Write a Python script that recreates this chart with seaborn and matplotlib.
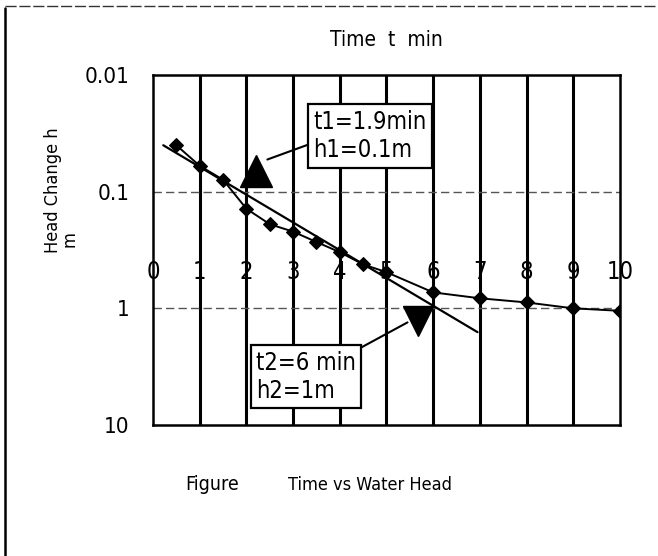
import matplotlib
matplotlib.use("Agg")
import matplotlib.pyplot as plt
import seaborn as sns
import pandas as pd
from matplotlib.lines import Line2D

# ---- data ----
time_min = [0.5, 1, 1.5, 2, 2.5, 3, 3.5, 4, 4.5, 5, 6, 7, 8, 9, 10]
head_m = [0.04, 0.06, 0.079, 0.14, 0.19, 0.22, 0.27, 0.33, 0.42, 0.49, 0.73, 0.82, 0.89, 1.0, 1.05]
fit_t = [0.22, 6.95]
fit_h = [0.04, 1.6]
t1, h1_marker = 2.2, 0.067
t2, h2_marker = 5.67, 1.28
x_ticks = [0, 1, 2, 3, 4, 5, 6, 7, 8, 9, 10]
y_ticks = [0.01, 0.1, 1, 10]
y_tick_labels = ["0.01", "0.1", "1", "10"]
x_label_level = 0.49
ann1_text = "t1=1.9min\nh1=0.1m"
ann2_text = "t2=6 min\nh2=1m"

sns.set_style("white")
plt.rcParams['font.family'] = ['DejaVu Sans']
plt.rcParams['font.stretch'] = 'condensed'
plt.rcParams['text.color'] = 'black'
plt.rcParams['axes.labelcolor'] = 'black'
plt.rcParams['xtick.color'] = 'black'
plt.rcParams['ytick.color'] = 'black'

fig = plt.figure(figsize=(6.58, 5.56), dpi=100)
ax = fig.add_axes([0.2325, 0.2356, 0.7097, 0.6295])

df = pd.DataFrame({"t": time_min, "h": head_m})
sns.lineplot(data=df, x="t", y="h", ax=ax, color="black", marker="D",
             markersize=7, markeredgecolor="black", linewidth=1.4)
sns.lineplot(x=fit_t, y=fit_h, ax=ax, color="black", linewidth=1.6)

ax.set_yscale("log")
ax.set_xlim(0, 10)
ax.set_ylim(10, 0.01)

# triangles marking the two points
ax.plot([t1], [h1_marker], marker="^", markersize=23, color="black", linestyle="none")
ax.plot([t2], [h2_marker], marker="v", markersize=22, color="black", linestyle="none")

# grid
ax.set_xticks(x_ticks)
ax.set_xticklabels([])
ax.set_yticks(y_ticks)
ax.set_yticklabels(y_tick_labels)
ax.minorticks_off()
ax.tick_params(axis="both", length=0)
ax.tick_params(axis="y", pad=17, labelsize=16)
for xv in x_ticks[1:-1]:
    ax.axvline(xv, color="black", linewidth=2.2, zorder=1)
for yv in y_ticks[1:-1]:
    ax.axhline(yv, color="#555555", linewidth=1.0, linestyle=(0, (6, 3)), zorder=1)
for s in ax.spines.values():
    s.set_color("black")
    s.set_linewidth(1.8)

# x tick labels placed inside plot
for xv in x_ticks:
    ax.text(xv, x_label_level, str(xv), ha="center", va="center", fontsize=17, zorder=3)

ax.set_title("Time  t  min", fontsize=15, pad=21)
ax.set_xlabel("")
ax.set_ylabel("")
ax.text(-0.215, 0.67, "Head Change h", rotation=90, ha="center", va="center",
        fontsize=13, transform=ax.transAxes)
ax.text(-0.178, 0.53, "m", rotation=90, ha="center", va="center",
        fontsize=13, transform=ax.transAxes)

box = dict(boxstyle="square,pad=0.22", facecolor="white", edgecolor="black", linewidth=1.6)
ax.annotate(ann1_text, xy=(2.45, 0.053), xytext=(3.43, 0.0333), ha="left", va="center",
            fontsize=17, bbox=box, linespacing=1.25,
            arrowprops=dict(arrowstyle="-", color="black", linewidth=1.5, relpos=(0, 0.37),
                            shrinkA=0, shrinkB=0))
ax.annotate(ann2_text, xy=(5.45, 1.32), xytext=(2.2, 3.87), ha="left", va="center",
            fontsize=17, bbox=box, linespacing=1.25,
            arrowprops=dict(arrowstyle="-", color="black", linewidth=1.5, relpos=(1, 1),
                            shrinkA=0, shrinkB=0))

fig.text(0.281, 0.128, "Figure", fontsize=14, ha="left", va="center")
fig.text(0.437, 0.128, "Time vs Water Head", fontsize=13, ha="left", va="center")

# outer page border
fig.add_artist(Line2D([0.008, 0.008], [0.0, 0.985], transform=fig.transFigure, color="black", linewidth=1.8))
fig.add_artist(Line2D([0.008, 1.0], [0.99, 0.99], transform=fig.transFigure, color="#333333",
                      linewidth=1.0, linestyle=(0, (8, 2))))

fig.savefig("out.png", dpi=100)
